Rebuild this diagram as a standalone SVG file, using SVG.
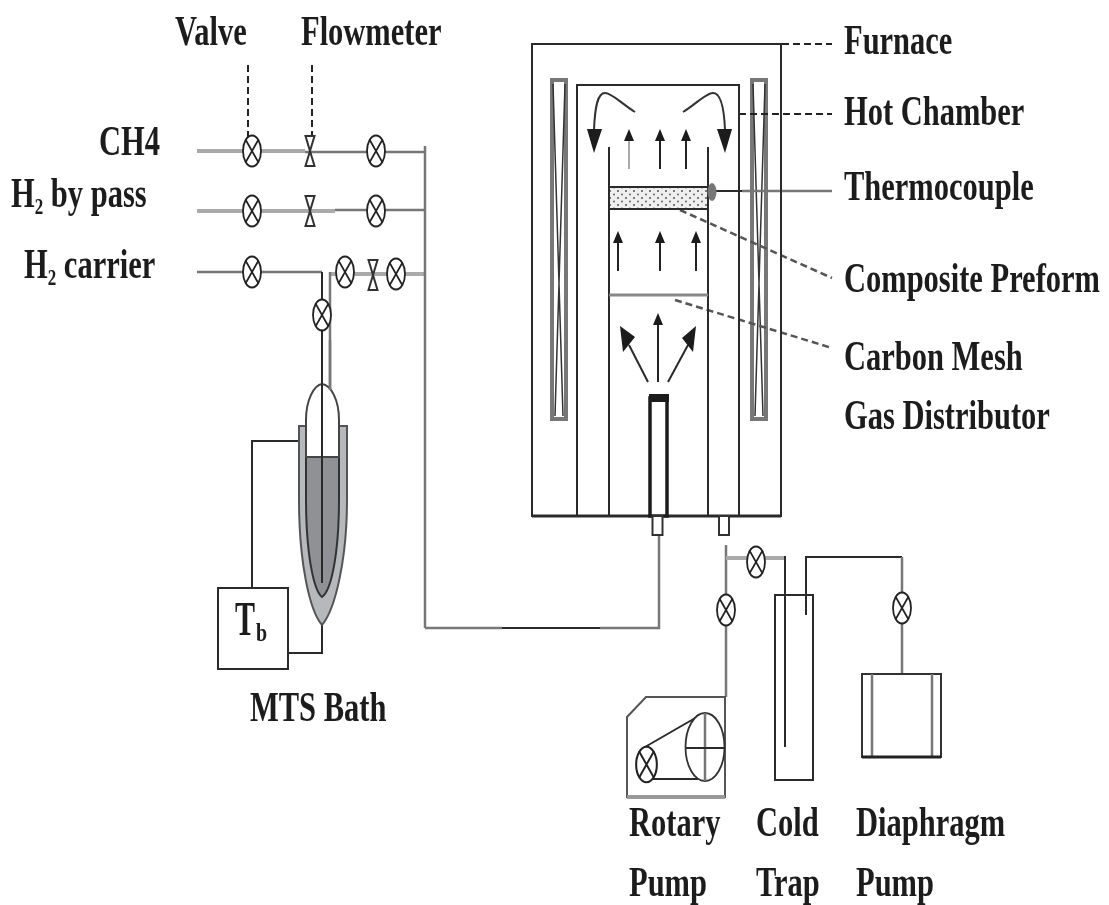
<svg xmlns="http://www.w3.org/2000/svg" width="1109" height="905" viewBox="0 0 1109 905">
<defs>
<filter id="soft" x="0" y="0" width="100%" height="100%" filterUnits="userSpaceOnUse" primitiveUnits="userSpaceOnUse"><feGaussianBlur stdDeviation="0.55"/></filter>
<pattern id="dots" width="8" height="7" patternUnits="userSpaceOnUse"><rect width="8" height="7" fill="#efefef"/><circle cx="2" cy="2" r="1" fill="#555"/><circle cx="6" cy="5.5" r="1" fill="#666"/></pattern>
<g id="valve"><ellipse rx="9" ry="15.5" fill="#fff" stroke="#222" stroke-width="1.800"/><path d="M-6.500 -11.500 6.500 11.500M6.500 -11.500 -6.500 11.500" fill="none" stroke="#222" stroke-width="1.700"/></g>
<g id="flow"><path d="M-4.500 -15H4.500L-4.500 15H4.500Z" fill="#fff" stroke="#333" stroke-width="2"/></g>
<marker id="ah" markerWidth="12" markerHeight="10" refX="1" refY="5" orient="auto" markerUnits="userSpaceOnUse"><path d="M0 0 12 5 0 10Z" fill="#1a1a1a"/></marker>
</defs>
<style>
.l{fill:none;stroke:#2a2a2a;stroke-width:2}
.g{fill:none;stroke:#aaa;stroke-width:4}
.m{fill:none;stroke:#777;stroke-width:2.500}
.d{fill:none;stroke:#222;stroke-width:2;stroke-dasharray:7 4}
.dg{fill:none;stroke:#555;stroke-width:2.500;stroke-dasharray:7 4}
.a{fill:none;stroke:#222;stroke-width:2;marker-end:url(#ah)}
.h{fill:#fff;stroke:#777;stroke-width:4}
.hx{fill:none;stroke:#333;stroke-width:1.500}
text{font-family:"Liberation Serif","Times New Roman",serif;font-weight:700;font-size:30.500px;fill:#1c1c1c}
</style>
<rect width="1109" height="905" fill="#fff"/>
<g filter="url(#soft)">
<g id="heater-left">
<rect x="552" y="80" width="14" height="339" class="h"/>
<path class="hx" d="M553 84 563 416M565 84 555 416"/>
</g>
<g id="heater-right">
<rect x="752" y="80" width="14" height="339" class="h"/>
<path class="hx" d="M753 84 763 416M765 84 755 416"/>
</g>
<g id="connectors">
<path class="g" d="M197 151H305"/><path class="m" d="M305 152H425"/>
<path class="g" d="M197 211H335"/><path class="m" d="M335 210H425"/>
<path class="m" d="M197 272H322"/><path class="g" d="M330 274H425"/>
<path class="m" d="M425 146V628"/>
<path class="l" d="M322 272V583"/><path class="m" d="M330 272V390"/>
<path class="m" d="M425 628H502"/><path class="l" d="M502 628H600"/><path class="m" d="M600 628H659V535"/>
<path class="d" d="M248 65V138"/><path class="d" d="M312 65V135"/>
<path class="d" d="M782 44H832"/><path class="d" d="M739 114H832"/>
<path class="dg" d="M680 210 832 278"/><path class="dg" d="M675 300 832 348"/>
<path class="l" d="M716 191H742"/><path class="m" d="M742 191H832"/>
<path class="m" d="M726 545V697"/><path class="g" d="M726 558H785"/>
<path class="l" d="M806 615V557H902"/><path class="m" d="M902 557V674"/>
<path class="l" d="M252 588V441H299"/><path class="l" d="M288 653H322V625"/>
</g>
<g id="valves">
<use href="#valve" x="252" y="151"/><use href="#flow" x="310" y="151"/><use href="#valve" x="376" y="151"/>
<use href="#valve" x="252" y="211"/><use href="#flow" x="310" y="211"/><use href="#valve" x="376" y="211"/>
<use href="#valve" x="252" y="272"/><use href="#valve" x="345" y="272"/><use href="#flow" x="373" y="275"/><use href="#valve" x="396" y="274"/>
<use href="#valve" x="322" y="315"/>
<use href="#valve" x="756" y="562"/><use href="#valve" x="726" y="610"/><use href="#valve" x="902" y="608"/>
</g>
<g id="furnace">
<rect x="532" y="44" width="249" height="472" fill="none" stroke="#2a2a2a" stroke-width="2"/>
<path class="l" d="M577 516V85H739V516"/>
<path class="l" d="M609 147V516M708 147V516"/>
<path d="M532 516H781" fill="none" stroke="#2a2a2a" stroke-width="3"/>
</g>
<g id="preform">
<rect x="609" y="187" width="99" height="22" fill="url(#dots)" stroke="#2a2a2a" stroke-width="2"/>
<ellipse cx="712" cy="192" rx="4.500" ry="9" fill="#777"/>
</g>
<g id="mesh"><path d="M609 295H708" fill="none" stroke="#888" stroke-width="3"/></g>
<g id="arrows">
<path class="a" style="stroke:#aaa" d="M629 169V140"/><path class="a" d="M660 169V140"/><path class="a" d="M686 169V140"/>
<path class="a" d="M618 271V242"/><path class="a" d="M660 271V242"/><path class="a" d="M696 271V242"/>
<path class="a" d="M658 382V324"/>
<path class="l" d="M648 382 629 345"/><path class="l" d="M668 382 688 345"/>
<path d="M620 326 635 337 623 352Z" fill="#1a1a1a"/><path d="M696 326 682 338 693 352Z" fill="#1a1a1a"/>
<path d="M635 112C622 104 612 93 605 93C598 93 595 105 594 130" fill="none" stroke="#333" stroke-width="2"/>
<path d="M587 129H602L594 153Z" fill="#1a1a1a"/>
<path d="M683 112C696 104 706 93 713 93C720 93 724 105 725 130" fill="none" stroke="#333" stroke-width="2"/>
<path d="M717 129H732L725 153Z" fill="#1a1a1a"/>
</g>
<g id="nozzle">
<rect x="650" y="398" width="17" height="118" fill="#fff" stroke="#1a1a1a" stroke-width="3.500"/>
<rect x="649" y="394" width="20" height="8" fill="#1a1a1a"/>
<rect x="652.500" y="516" width="10" height="19" fill="#fff" stroke="#333" stroke-width="2"/>
<rect x="719" y="516" width="10" height="19" fill="#fff" stroke="#333" stroke-width="2"/>
</g>
<g id="bath">
<path d="M299 426H347V500C347 560 335 610 322 625C309 610 299 560 299 500Z" fill="#b6b8bb" stroke="#555" stroke-width="2"/>
<path d="M306 457H339V500C339 550 332 590 322 597C313 590 306 550 306 500Z" fill="#8f9194" stroke="#333" stroke-width="2"/>
<path d="M306 457V420C306 400 314 385 322 384C331 385 339 400 339 420V457Z" fill="#fff" stroke="#444" stroke-width="2"/>
<path d="M322 340V583" class="l"/><path d="M330 340V390" class="m"/>
</g>
<g id="tb"><rect x="218" y="588" width="70" height="81" fill="#fff" stroke="#2a2a2a" stroke-width="2"/>
<text transform="translate(235 635) scale(1 1.600)" style="font-size:30px">T</text><text transform="translate(256 641) scale(1 1.300)" style="font-size:20px">b</text></g>
<g id="rotary">
<path d="M627 717 646 697H725V797H627Z" fill="#fff" stroke="#555" stroke-width="2"/>
<path d="M627 797H725" stroke="#999" stroke-width="4"/>
<path class="l" d="M645 747 697 717M653 779H707"/>
<ellipse cx="705" cy="747" rx="19.500" ry="34" fill="#fff" stroke="#333" stroke-width="1.800"/>
<path d="M705 713V781" class="m"/><path d="M686 748H725" class="l"/>
<use href="#valve" transform="translate(646.500 764.500) scale(1.150)"/>
</g>
<g id="trap"><rect x="775" y="595" width="38" height="185" fill="none" stroke="#2a2a2a" stroke-width="2"/><path class="l" d="M785 556V747M806 557V615M775 595H813"/></g>
<g id="diaphragm"><rect x="862" y="674" width="79" height="83" fill="#fff" stroke="#333" stroke-width="2"/><path class="m" d="M872 674V757M932 674V757"/><path d="M862 757H941" stroke="#222" stroke-width="3"/></g>
<g id="labels">
<text transform="translate(175 45) scale(1 1.400)">Valve</text>
<text transform="translate(301 45) scale(1 1.400)">Flowmeter</text>
<text transform="translate(99 155) scale(1 1.400)">CH4</text>
<text transform="translate(11 207) scale(1 1.400)">H<tspan dy="5" style="font-size:17px">2</tspan><tspan dy="-5"> by pass</tspan></text>
<text transform="translate(24 278) scale(1 1.400)">H<tspan dy="5" style="font-size:17px">2</tspan><tspan dy="-5"> carrier</tspan></text>
<text transform="translate(250 721) scale(1 1.400)">MTS Bath</text>
<text transform="translate(844 54) scale(1 1.400)">Furnace</text>
<text transform="translate(844 125) scale(1 1.400)">Hot Chamber</text>
<text transform="translate(844 200) scale(1 1.400)">Thermocouple</text>
<text transform="translate(844 292) scale(1 1.400)">Composite Preform</text>
<text transform="translate(844 370) scale(1 1.400)">Carbon Mesh</text>
<text transform="translate(844 429) scale(1 1.400)">Gas Distributor</text>
<text transform="translate(629 836) scale(1 1.400)">Rotary</text>
<text transform="translate(629 896) scale(1 1.400)">Pump</text>
<text transform="translate(756 836) scale(1 1.400)">Cold</text>
<text transform="translate(756 896) scale(1 1.400)">Trap</text>
<text transform="translate(856 836) scale(1 1.400)">Diaphragm</text>
<text transform="translate(856 896) scale(1 1.400)">Pump</text>
</g>
</g>
</svg>
